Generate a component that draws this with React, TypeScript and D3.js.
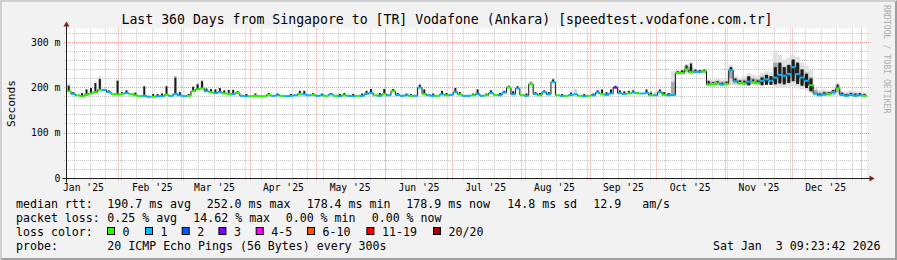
import React from 'react';
import * as d3 from 'd3';

// ---------- data ----------
const END_TIME = new Date(2026, 0, 3, 9, 23, 42);
const SPAN_DAYS = 360;
const STEP_DAYS = 2;

const titleText = 'Last 360 Days from Singapore to [TR] Vodafone (Ankara) [speedtest.vodafone.com.tr]';

// median rtt (ms), one value per 2 days
const medianMs = [
  192, 186, 183, 181, 184, 187, 190, 195, 195, 190, 186, 185, 186, 188, 186, 183, 181, 182, 180, 180,
  181, 181, 184, 182, 186, 183, 181, 182, 192, 196, 198, 192, 190, 188, 190, 187, 186, 186, 188, 182,
  181, 181, 182, 181, 181,
  184, 182, 183, 182, 181, 182, 183, 186, 185, 183, 184, 182, 183, 182, 185, 182, 181, 183, 182, 181,
  182, 182, 186, 188, 183, 182, 186, 183, 192, 184, 182, 183, 182, 182, 200, 186, 183, 182, 182, 185,
  183, 184, 190, 185, 182,
  182, 183, 186, 182, 183, 188, 184, 183, 189, 200, 185, 198, 184, 182, 208, 186, 183, 190, 185, 212,
  183, 182, 182, 184, 185, 182, 181, 182, 183, 189, 186, 184, 187, 200, 188, 186, 187, 189, 187, 187,
  188, 183, 183, 190, 184,
  183, 184, 232, 232, 240, 234, 235, 235, 236, 207, 208, 209, 207, 208, 238, 214, 210, 209, 213, 212,
  210, 215, 218, 215, 222, 228, 226, 230, 245, 230, 222, 215, 205, 187, 183, 185, 186, 190, 198, 184,
  182, 184, 182, 183, 182,
];

// loss level index per 2 days (0 -> "0", 1 -> "1", 2 -> "2", 3 -> "3", ...)
const lossLevel = [
  0, 1, 0, 0, 0, 0, 0, 0, 1, 1, 0, 0, 0, 1, 0, 0, 0, 1, 1, 0, 1, 1, 0, 1, 1, 1, 1, 0, 0, 0,
  0, 1, 0, 1, 1, 0, 0, 1, 0, 1, 1, 0, 0, 0, 0,
  0, 1, 1, 0, 1, 1, 1, 0, 1, 1, 0, 1, 1, 0, 1, 0, 1, 0, 1, 1, 0, 1, 1, 1, 0, 1, 0, 1, 0, 1,
  1, 1, 0, 1, 1, 0, 1, 1, 0, 1, 0, 1, 1, 0, 1,
  1, 0, 1, 1, 0, 1, 0, 1, 1, 0, 1, 1, 0, 1, 0, 1, 0, 1, 1, 1, 0, 1, 0, 1, 1, 0, 1, 0, 1, 1,
  0, 1, 1, 3, 1, 1, 0, 1, 0, 1, 1, 0, 1, 1, 0,
  1, 1, 0, 0, 0, 0, 1, 1, 0, 0, 0, 0, 1, 0, 1, 1, 0, 0, 1, 0, 0, 1, 1, 1, 1, 1, 1, 1, 1, 1,
  1, 1, 0, 1, 1, 1, 0, 1, 0, 1, 1, 1, 1, 1, 0,
];

// top of the dark (inner) smoke, ms; 0 = none
const darkTopMs = [
  204, 190, 0, 188, 196, 199, 210, 219, 0, 194, 0, 215, 190, 194, 0, 189, 0, 203, 0, 186,
  186, 187, 203, 0, 222, 190, 0, 186, 202, 207, 214, 198, 197, 196, 199, 194, 195, 195, 192, 0,
  186, 0, 187, 0, 0,
  188, 0, 187, 0, 0, 186, 0, 193, 193, 0, 188, 0, 187, 0, 188, 0, 186, 188, 0, 186,
  0, 187, 193, 197, 0, 188, 197, 0, 197, 188, 0, 187, 186, 0, 206, 196, 0, 187, 0, 193,
  188, 0, 199, 190, 0,
  0, 187, 196, 0, 187, 194, 0, 188, 193, 203, 192, 203, 0, 187, 211, 190, 188, 194, 190, 218,
  0, 186, 0, 189, 0, 0, 186, 0, 187, 194, 196, 190, 196, 203, 194, 192, 193, 194, 190, 0,
  196, 189, 0, 196, 190,
  188, 0, 236, 238, 249, 253, 240, 239, 240, 215, 212, 214, 211, 213, 245, 220, 216, 215, 225, 218,
  216, 222, 228, 225, 245, 255, 245, 250, 262, 255, 240, 230, 220, 0, 187, 190, 190, 195, 207, 189,
  186, 188, 187, 188, 186,
];

// bottom of the dark smoke where it reaches below the median: [point, ms]
const darkLowMs: [number, number][] = [
  [153, 205], [156, 205], [157, 206], [158, 206], [159, 207], [160, 209], [161, 207],
  [162, 210], [163, 214], [164, 208], [165, 204], [166, 199], [167, 192],
];

// outer smoke band for the last part of the year (points 135..179)
const lateSmokeFirst = 135;
const lateSmokeTopMs = [
  188, 236, 238, 240, 252, 256, 240, 240, 240, 218, 218, 220, 218, 220, 250, 226, 222, 225, 232, 228,
  226, 232, 236, 234, 282, 272, 262, 266, 272, 268, 255, 248, 238, 200, 194, 196, 194, 196, 210, 192,
  191, 194, 192, 191, 190,
];
const lateSmokeBottomMs = [
  180, 181, 228, 228, 230, 229, 230, 230, 230, 202, 203, 203, 202, 203, 205, 205, 204, 203, 204, 205,
  204, 205, 206, 206, 200, 200, 199, 200, 202, 198, 196, 194, 188, 181, 180, 180, 180, 181, 182, 180,
  179, 180, 179, 180, 179,
];

// light smoke tips earlier in the year: [point, ms]
const earlySmokeMs: [number, number][] = [
  [0, 208], [7, 224], [11, 218], [24, 226], [29, 210], [30, 217], [79, 209], [99, 206],
  [104, 214], [109, 221], [114, 196], [123, 206], [131, 192], [132, 191], [134, 191],
];

const lossColors = ['#26ff00', '#00b8ff', '#0059ff', '#7e00ff', '#ff00ff', '#ff5500', '#ff0000', '#a10000'];
const lossLabels = ['0', '1', '2', '3', '4-5', '6-10', '11-19', '20/20'];

const yMinorTicks = [20, 40, 60, 80, 120, 140, 160, 180, 220, 240, 260, 280, 320];
const yMajorTicks = [100, 200, 300];
const yLabelTicks = [0, 100, 200, 300];
const yLabelTexts = ['0', '100 m', '200 m', '300 m'];

const row1Texts = ['median rtt:', '190.7 ms avg', '252.0 ms max', '178.4 ms min', '178.9 ms now', '14.8 ms sd', '12.9   am/s'];
const row2Texts = ['packet loss:', '0.25 % avg', '14.62 % max', '0.00 % min', '0.00 % now'];
const row3Title = 'loss color:';
const row4Texts = ['probe:', '20 ICMP Echo Pings (56 Bytes) every 300s'];
const dateText = 'Sat Jan  3 09:23:42 2026';
const watermark = 'RRDTOOL / TOBI OETIKER';

// ---------- layout ----------
const W = 897;
const H = 260;
const X0 = 66.5;
const PW = 800;
const Y0 = 178.5;
const PH = 150;
const Y_MAX = 330;
const MONO = "'DejaVu Sans Mono', monospace";
const row1X = [16, 107.3, 206.7, 306.7, 406.3, 507.3, 593.3];
const row2X = [16, 107.3, 193.3, 285.7, 371.7];
const row3BoxX = [107.3, 145.3, 182, 218.7, 256, 307.3, 366.7, 433.3];
const rowY = [207.8, 221.8, 235.7, 249.6];

export default function App() {
  const start = d3.timeDay.offset(END_TIME, -SPAN_DAYS);
  const x = d3.scaleTime().domain([start, END_TIME]).range([X0, X0 + PW]);
  const y = d3.scaleLinear().domain([0, Y_MAX]).range([Y0, Y0 - PH]);
  const crisp = (v: number) => Math.round(v - 0.5) + 0.5;
  const px0 = (i: number) => x(d3.timeDay.offset(start, i * STEP_DAYS));
  const px1 = (i: number) => Math.min(x(d3.timeDay.offset(start, (i + 1) * STEP_DAYS)), X0 + PW);

  const months = d3.timeMonth.range(d3.timeMonth.floor(start), END_TIME);
  const monthLines = months.filter((m) => m >= start);
  const monthLabels = months
    .map((m) => d3.timeDay.offset(m, 15))
    .filter((d) => d >= start && d <= END_TIME);
  const weeks = d3.timeSunday.range(start, END_TIME);
  const fmtMonth = d3.timeFormat("%b '%y");

  const lowMap = new Map(darkLowMs.map(([i, v]) => [i, v]));

  const stepPts: [number, number][] = medianMs.map((v, i) => [px0(i), y(v)]);
  stepPts.push([X0 + PW, y(medianMs[medianMs.length - 1])]);
  const stepPath = d3.line().curve(d3.curveStepAfter)(stepPts) || '';

  const gridMinor = '#c4c4c4';
  const gridMajor = '#eb9a9a';
  const txt = { whiteSpace: 'pre' as const };

  return (
    <svg
      width={W}
      height={H}
      viewBox={`0 0 ${W} ${H}`}
      style={{ position: 'absolute', left: 0, top: 0, display: 'block' }}
      fontFamily={MONO}
    >
      <rect x={0} y={0} width={W} height={H} fill="#f2f2f2" />
      <polygon points={`0,0 ${W},0 ${W - 2},2 2,2 2,${H - 2} 0,${H}`} fill="#cfcfcf" />
      <polygon points={`${W},${H} 0,${H} 2,${H - 2} ${W - 2},${H - 2} ${W - 2},2 ${W},0`} fill="#9e9e9e" />

      <rect x={X0} y={Y0 - PH} width={PW} height={PH} fill="#ffffff" />

      {yMinorTicks.map((v) => (
        <line key={'hm' + v} x1={64} x2={869} y1={crisp(y(v))} y2={crisp(y(v))}
          stroke={gridMinor} strokeDasharray="1,1" />
      ))}
      {weeks.map((d) => (
        <line key={'vw' + +d} x1={crisp(x(d))} x2={crisp(x(d))} y1={Y0 - PH} y2={181}
          stroke={gridMinor} strokeDasharray="1,1" />
      ))}
      {yMajorTicks.map((v) => (
        <line key={'hM' + v} x1={64} x2={869} y1={crisp(y(v))} y2={crisp(y(v))}
          stroke={gridMajor} strokeDasharray="1,1" />
      ))}
      {monthLines.map((d) => (
        <line key={'vM' + +d} x1={crisp(x(d))} x2={crisp(x(d))} y1={Y0 - PH} y2={181}
          stroke={gridMajor} strokeDasharray="1,1" />
      ))}

      {lateSmokeTopMs.map((top, k) => {
        const i = lateSmokeFirst + k;
        const bot = lateSmokeBottomMs[k];
        return (
          <rect key={'ls' + i} x={px0(i)} width={px1(i) - px0(i)} y={y(top)} height={y(bot) - y(top)} fill="#e0e0e0" />
        );
      })}
      {lateSmokeTopMs.map((top, k) => {
        const i = lateSmokeFirst + k;
        const med = medianMs[i];
        const t = med + (top - med) * 0.55;
        const b = med - (med - lateSmokeBottomMs[k]) * 0.55;
        return (
          <rect key={'lm' + i} x={px0(i)} width={px1(i) - px0(i)} y={y(t)} height={Math.max(0, y(b) - y(t))} fill="#a9a9a9" />
        );
      })}
      {earlySmokeMs.map(([i, top]) => {
        const xm = (px0(i) + px1(i)) / 2;
        return (
          <rect key={'es' + i} x={xm - 1.5} width={3} y={y(top)} height={y(medianMs[i]) - y(top)} fill="#cfcfcf" />
        );
      })}

      {darkTopMs.map((top, i) => {
        if (!top) return null;
        const low = lowMap.get(i);
        const bottom = low ?? medianMs[i];
        const w = low ? 3 : 2;
        const xm = (px0(i) + px1(i)) / 2;
        return (
          <rect key={'ds' + i} x={xm - w / 2} width={w} y={y(top)} height={Math.max(0, y(bottom) - y(top))} fill="#1c1c1c" />
        );
      })}

      <path d={stepPath} fill="none" stroke="#111" strokeWidth={1} />
      {medianMs.map((v, i) => (
        <line key={'md' + i} x1={px0(i)} x2={px1(i)} y1={y(v)} y2={y(v)}
          stroke={lossColors[lossLevel[i]]} strokeWidth={2} />
      ))}

      <line x1={X0 - 4} x2={X0 + PW + 4} y1={Y0} y2={Y0} stroke="#1f1f1f" />
      <line x1={X0} x2={X0} y1={Y0 + 4} y2={Y0 - PH - 4} stroke="#1f1f1f" />
      <polygon points={`${X0 + PW + 3},${Y0 - 3} ${X0 + PW + 3},${Y0 + 3} ${X0 + PW + 8},${Y0}`} fill="#801f1f" />
      <polygon points={`${X0 - 3},${Y0 - PH - 2} ${X0 + 3},${Y0 - PH - 2} ${X0},${Y0 - PH - 7}`} fill="#801f1f" />

      {yLabelTicks.map((v, k) => (
        <text key={'yl' + v} x={60.5} y={y(v)} dy="0.35em" textAnchor="end" fontSize={9.8} fill="#000" style={txt}>
          {yLabelTexts[k]}
        </text>
      ))}
      {monthLabels.map((d) => (
        <text key={'ml' + +d} x={x(d)} y={190.5} textAnchor="middle" fontSize={9.7} fill="#000" style={txt}>
          {fmtMonth(d)}
        </text>
      ))}
      <text x={11} y={Y0 - PH / 2} transform={`rotate(-90 11 ${Y0 - PH / 2})`} textAnchor="middle" dominantBaseline="central" fontSize={11.2} fill="#000">
        Seconds
      </text>

      <text x={447} y={23.5} textAnchor="middle" fontSize={13.2} fill="#000" style={txt}>
        {titleText}
      </text>

      <text x={886.5} y={5} transform={`rotate(90 886.5 5)`} dominantBaseline="central" fontSize={8.2} fill="#acacac" style={txt}>
        {watermark}
      </text>

      {row1Texts.map((t, k) => (
        <text key={'r1' + k} x={row1X[k]} y={rowY[0]} fontSize={11.6} fill="#000" style={txt}>{t}</text>
      ))}
      {row2Texts.map((t, k) => (
        <text key={'r2' + k} x={row2X[k]} y={rowY[1]} fontSize={11.6} fill="#000" style={txt}>{t}</text>
      ))}
      <text x={16} y={rowY[2]} fontSize={11.6} fill="#000" style={txt}>{row3Title}</text>
      {lossLabels.map((lab, k) => (
        <g key={'lc' + k}>
          <rect x={row3BoxX[k] + 0.2} y={227.5} width={7} height={7} fill={lossColors[k]} stroke="#000" strokeWidth={1} />
          <text x={row3BoxX[k] + 15.3} y={rowY[2]} fontSize={11.6} fill="#000" style={txt}>{lab}</text>
        </g>
      ))}
      <text x={16} y={rowY[3]} fontSize={11.6} fill="#000" style={txt}>{row4Texts[0]}</text>
      <text x={107.3} y={rowY[3]} fontSize={11.6} fill="#000" style={txt}>{row4Texts[1]}</text>
      <text x={880.5} y={rowY[3]} textAnchor="end" fontSize={11.6} fill="#000" style={txt}>{dateText}</text>
    </svg>
  );
}
